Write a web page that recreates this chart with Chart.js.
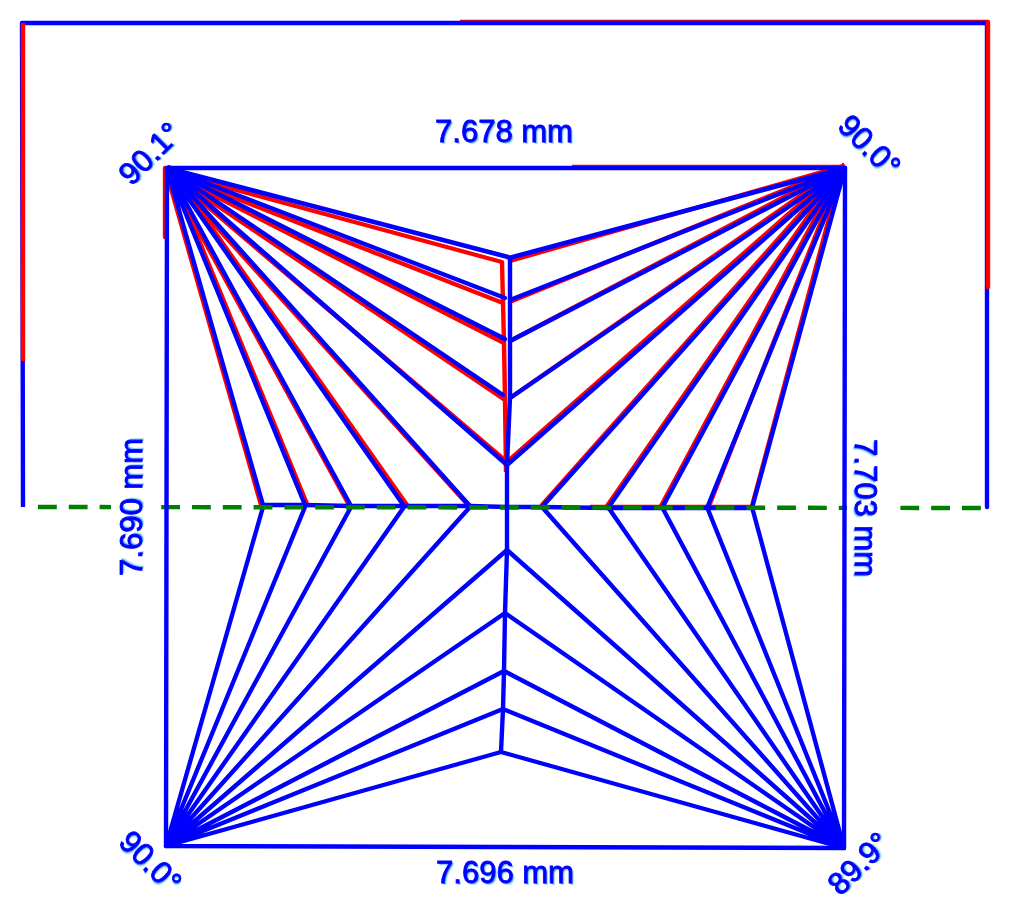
<!DOCTYPE html>
<html>
<head>
<meta charset="utf-8">
<title>Die measurement</title>
<script src="https://cdn.jsdelivr.net/npm/chart.js@4/dist/chart.umd.min.js"></script>
<style>
    html, body { margin: 0; padding: 0; background: #fff; }
    #wrap { width: 1010px; height: 916px; }
</style>
</head>
<body>
<div id="wrap"><canvas id="dieChart" width="1010" height="916"></canvas></div>
<script>
// All points are [x, y] measured from the centre of the die
const blueSquare = [[-340, 339], [338, 339], [337, -341], [-341, -339], [-340, 339]];
const blueFrame = [[-484, 0], [-485, 484], [480, 484], [480, 0]];
const blueSpine = [[3, 248], [3, 109], [0, 42], [0, 0], [0, -43], [-2, -106], [-3, -164], [-4, -202], [-6, -245]];
const blueMiddle = [[-244, 2], [-202, 2], [-156, 1], [-103, 1], [-37, 1], [0, 0], [35, 0], [101, -1], [155, -1], [200, -1], [245, -1]];

const blueTopLeftEnds = [[1, 250], [-2, 209], [-2, 168], [-4, 112], [0, 42], [-37, 1], [-103, 1], [-156, 1], [-202, 2], [-244, 2]];
const blueTopRightEnds = [[2, 249], [3, 207], [3, 166], [3, 109], [0, 42], [35, 0], [101, -1], [155, -1], [200, -1], [245, -1]];
const blueBottomLeftEnds = [[-6, -245], [-4, -202], [-3, -164], [-2, -106], [0, -43], [-37, 0], [-103, 0], [-156, 0], [-202, 0], [-244, 0]];
const blueBottomRightEnds = [[-6, -245], [-4, -202], [-3, -164], [-2, -106], [0, -43], [35, 0], [101, 0], [155, 0], [200, 0], [245, 0]];

const redFrameLeft = [[-484, 146], [-484, 484]];
const redFrameTop = [[-47, 485], [481, 485]];
const redFrameRight = [[481, 485], [481, 220]];
const redSquareLeft = [[-342, 339], [-342, 270]];
const redSquareTop = [[65, 340], [338, 340]];
const redSpine = [[-5, 245], [-4, 204], [-3, 164], [-2, 107], [-1, 35]];
const redMiddle = [[83, 0], [245, 0]];
const redTopLeftLow = [[-5, 245], [-4, 204], [-3, 164], [-2, 107], [0, 45], [-39, 2], [-158, 2], [-246, 2]];
const redTopLeftHigh = [[-100, 2], [-200, 3]];
const redTopRightEnds = [[3, 246], [5, 206], [3, 166], [3, 109], [0, 45], [35, 2], [100, 1], [154, 1], [202, 1], [245, 1]];

const greenCut = [[-469, 0], [474, -1]];

const sideLabels = ['7.678 mm', '7.703 mm', '7.696 mm', '7.690 mm'];
const sideAnchors = [[-3, 374], [357, -1], [-2, -367], [-374, 0]];
const sideTurns = [0, 90, 0, -90];
const cornerLabels = ['90.1°', '90.0°', '89.9°', '90.0°'];
const cornerAnchors = [[-356, 352], [361, 360], [353, -358], [-358, -356]];
const cornerTurns = [-45, 45, -45, 45];

const BLUE = '#0000ff';
const RED = '#ff0000';
const GREEN = '#008000';

const toPoints = (list) => list.map(p => ({ x: p[0], y: p[1] }));

// one path that goes out to each end and back to the corner
const spokes = (hub, ends) => {
    const path = [];
    ends.forEach(e => { path.push(hub, e); });
    return path;
};

// lower order is painted later, so on top
const lineSet = (list, color, order, extra) => Object.assign({
    data: toPoints(list),
    showLine: true,
    borderColor: color,
    borderWidth: 4.4,
    borderJoinStyle: 'round',
    pointRadius: 0,
    fill: false,
    order
}, extra || {});

const datasets = [
    lineSet(redFrameTop, RED, 60),
    lineSet(blueFrame, BLUE, 50),
    lineSet(redFrameLeft, RED, 40),
    lineSet(redFrameRight, RED, 40),
    lineSet(redSquareLeft, RED, 38),
    lineSet(redSquareTop, RED, 38),
    lineSet(spokes([-341, 336], redTopLeftLow), RED, 36),
    lineSet(spokes([-338, 340], redTopLeftHigh), RED, 36),
    lineSet(spokes([336, 341], redTopRightEnds), RED, 36),
    lineSet(redSpine, RED, 36),
    lineSet(redMiddle, RED, 36),
    lineSet(blueMiddle, BLUE, 30),
    lineSet(spokes([-340, 339], blueTopLeftEnds), BLUE, 30),
    lineSet(spokes([338, 339], blueTopRightEnds), BLUE, 30),
    lineSet(spokes([-341, -339], blueBottomLeftEnds), BLUE, 30),
    lineSet(spokes([337, -341], blueBottomRightEnds), BLUE, 30),
    lineSet(greenCut, GREEN, 20, { borderDash: [18.8, 12], borderJoinStyle: 'miter' }),
    lineSet(blueSpine, BLUE, 10),
    lineSet(blueSquare, BLUE, 10)
];

const drawLabel = (ctx, chart, text, anchor, turn) => {
    const px = chart.scales.x.getPixelForValue(anchor[0]);
    const py = chart.scales.y.getPixelForValue(anchor[1]);
    ctx.save();
    ctx.translate(px, py);
    ctx.rotate(turn * Math.PI / 180);
    ctx.font = '31px "Liberation Sans"';
    ctx.textAlign = 'center';
    ctx.textBaseline = 'middle';
    // pale copy behind the text, the reference has the label printed twice
    ctx.fillStyle = '#a8e4ff';
    ctx.fillText(text, 2, 2);
    ctx.fillStyle = '#4d88ff';
    ctx.fillText(text, 1, 1);
    ctx.strokeStyle = BLUE;
    ctx.lineWidth = 0.8;
    ctx.fillStyle = BLUE;
    ctx.fillText(text, 0, 0);
    ctx.strokeText(text, 0, 0);
    ctx.restore();
};

const labelPlugin = {
    id: 'dieLabels',
    afterDatasetsDraw(chart) {
        const ctx = chart.ctx;
        // the vertical labels sit on a white box that hides the dashed line
        const { x, y } = chart.scales;
        ctx.save();
        ctx.fillStyle = '#fff';
        [[-396, -352], [340, 388]].forEach(b => {
            const left = x.getPixelForValue(b[0]);
            const right = x.getPixelForValue(b[1]);
            ctx.fillRect(left, y.getPixelForValue(72), right - left, y.getPixelForValue(-72) - y.getPixelForValue(72));
        });
        ctx.restore();
        sideLabels.forEach((t, i) => drawLabel(ctx, chart, t, sideAnchors[i], sideTurns[i]));
        cornerLabels.forEach((t, i) => drawLabel(ctx, chart, t, cornerAnchors[i], cornerTurns[i]));
    }
};

new Chart(document.getElementById('dieChart'), {
    type: 'scatter',
    data: { datasets },
    options: {
        responsive: false,
        animation: false,
        layout: { padding: 0 },
        plugins: { legend: { display: false }, tooltip: { enabled: false } },
        scales: {
            x: { type: 'linear', min: -507, max: 503, display: false },
            y: { type: 'linear', min: -409, max: 507, display: false }
        }
    },
    plugins: [labelPlugin]
});
</script>
</body>
</html>
